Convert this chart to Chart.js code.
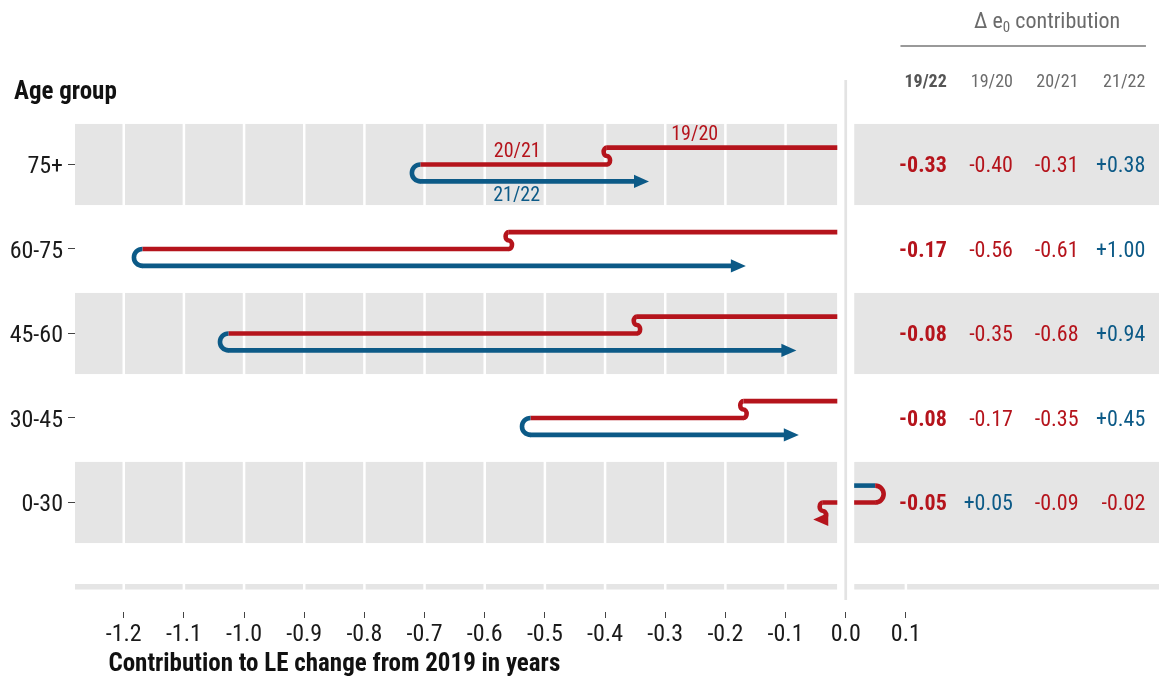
<!DOCTYPE html>
<html><head><meta charset="utf-8">
<script src="https://cdn.jsdelivr.net/npm/chart.js@4.4.1/dist/chart.umd.min.js"></script>
<style>html,body{margin:0;padding:0;background:#fff}#wrap{width:1159px;height:677px}</style>
</head><body><div id="wrap"><canvas id="c" width="1159" height="677"></canvas></div>
<script>
// ---- data ----
const ageGroups = ['75+', '60-75', '45-60', '30-45', '0-30'];
const periods = ['19/20', '20/21', '21/22'];
const c1920 = [-0.397, -0.560, -0.347, -0.170, 0.049];
const c2021 = [-0.310, -0.609, -0.679, -0.354, -0.087];
const c2122 = [0.380, 1.003, 0.944, 0.446, -0.016];
const xTicks = [-1.2, -1.1, -1.0, -0.9, -0.8, -0.7, -0.6, -0.5, -0.4, -0.3, -0.2, -0.1, 0, 0.1];
const tableHeaders = ['19/22', '19/20', '20/21', '21/22'];

// ---- style ----
const FF = '"Roboto Condensed","Liberation Sans Narrow","DejaVu Sans Condensed",Roboto,sans-serif';
const RED = '#b5141c', BLUE = '#0c5a87', BAND = '#e5e5e5', GREY = '#6b6b6b';
const GAP = 0.014, LEVEL = 0.2, BAND_H = 0.48, RX = 3.2, ARROW_L = 15, ARROW_W = 6.6, LW = 4.6;
const colX = [0.168, 0.278, 0.387, 0.498];
const periodLabels = [
  { i: 0, x: -0.251, y: 4.366 },
  { i: 1, x: -0.546, y: 4.168 },
  { i: 2, x: -0.547, y: 3.645 }
];
const rowVal = i => ageGroups.length - 1 - i;
const colorFor = v => (v < 0 ? RED : BLUE);
const fmt = v => (v >= 0 ? '+' : '') + v.toFixed(2);

const plugin = {
  id: 'lexis',
  beforeDatasetsDraw(chart) {
    const { ctx, chartArea: ca, scales: { x, y } } = chart;
    const gapL = x.getPixelForValue(-GAP), gapR = x.getPixelForValue(GAP);
    ctx.save();
    // bands
    ctx.fillStyle = BAND;
    ageGroups.forEach((g, i) => {
      if (i % 2) return;
      const r = rowVal(i);
      const yt = y.getPixelForValue(r + BAND_H), yb = y.getPixelForValue(r - BAND_H);
      ctx.fillRect(ca.left, yt, gapL - ca.left, yb - yt);
      ctx.fillRect(gapR, yt, ca.right - gapR, yb - yt);
    });
    // bottom strip
    const st = y.getPixelForValue(-0.965), sb = y.getPixelForValue(-1.03);
    ctx.fillRect(ca.left, st, gapL - ca.left, sb - st);
    ctx.fillRect(gapR, st, ca.right - gapR, sb - st);
    // white grid
    ctx.strokeStyle = '#fff'; ctx.lineWidth = 2.5;
    xTicks.forEach(v => {
      if (v === 0) return;
      const px = x.getPixelForValue(v);
      ctx.beginPath();
      if (v < 0) { ctx.moveTo(px, ca.top); ctx.lineTo(px, ca.bottom); }
      else { ctx.moveTo(px, st - 1); ctx.lineTo(px, sb + 1); }
      ctx.stroke();
    });
    // shapes
    ctx.beginPath(); ctx.rect(ca.left, ca.top, ca.right - ca.left, ca.bottom - ca.top); ctx.clip();
    ageGroups.forEach((g, i) => {
      const vals = [c1920[i], c2021[i], c2122[i]];
      const cum = [0];
      vals.forEach(v => cum.push(cum[cum.length - 1] + v));
      const r = rowVal(i);
      const lv = [r + LEVEL, r, r - LEVEL].map(v => y.getPixelForValue(v));
      const px = cum.map(v => x.getPixelForValue(v));
      ctx.lineWidth = LW; ctx.lineCap = 'butt'; ctx.lineJoin = 'round';
      for (let k = 0; k < 3; k++) {
        const col = colorFor(vals[k]);
        const d = Math.sign(vals[k]);
        ctx.strokeStyle = col; ctx.fillStyle = col;
        if (k > 0) {
          const dp = Math.sign(vals[k - 1]);
          const x0 = px[k], y0 = lv[k - 1], y1 = lv[k];
          ctx.beginPath();
          if (dp === d) {
            const ry = (y1 - y0) / 4, ccw = dp < 0;
            ctx.ellipse(x0, y0 + ry, RX, ry, 0, -Math.PI / 2, Math.PI / 2, ccw);
            ctx.ellipse(x0, y0 + 3 * ry, RX, ry, 0, -Math.PI / 2, Math.PI / 2, !ccw);
          } else {
            const rr = (y1 - y0) / 2;
            ctx.arc(x0, y0 + rr, rr, -Math.PI / 2, Math.PI / 2, dp < 0);
          }
          ctx.stroke();
        }
        let xs = px[k], xe = px[k + 1];
        if (k === 2) xe = px[3] - d * ARROW_L * 0.6;
        ctx.beginPath(); ctx.moveTo(xs - d * 0.5, lv[k]); ctx.lineTo(xe, lv[k]); ctx.stroke();
        if (k === 2) {
          ctx.beginPath();
          ctx.moveTo(px[3], lv[k]);
          ctx.lineTo(px[3] - d * ARROW_L, lv[k] - ARROW_W);
          ctx.lineTo(px[3] - d * ARROW_L, lv[k] + ARROW_W);
          ctx.closePath(); ctx.fill();
        }
      }
    });
    // period labels
    ctx.font = '20px ' + FF; ctx.textAlign = 'center'; ctx.textBaseline = 'middle';
    periodLabels.forEach(p => {
      ctx.fillStyle = p.i === 2 ? BLUE : RED;
      ctx.fillText(periods[p.i], x.getPixelForValue(p.x), y.getPixelForValue(p.y) + 1.5);
    });
    ctx.restore();
    // zero gap and zero line
    ctx.save();
    ctx.fillStyle = '#fff';
    ctx.fillRect(gapL, ca.top, gapR - gapL, ca.bottom - ca.top);
    ctx.strokeStyle = '#e3e3e3'; ctx.lineWidth = 2.7;
    const zx = x.getPixelForValue(0);
    ctx.beginPath(); ctx.moveTo(zx, ca.top); ctx.lineTo(zx, y.getPixelForValue(-1.155)); ctx.stroke();
    ctx.restore();
  },
  afterDraw(chart) {
    const { ctx, chartArea: ca, scales: { x, y } } = chart;
    ctx.save();
    ctx.textBaseline = 'middle';
    // headers
    ctx.textAlign = 'right';
    tableHeaders.forEach((h, j) => {
      ctx.font = (j === 0 ? 'bold ' : '') + '18px ' + FF;
      ctx.fillStyle = j === 0 ? '#555' : GREY;
      ctx.fillText(h, x.getPixelForValue(colX[j]), ca.top + 2.5);
    });
    // values
    ageGroups.forEach((g, i) => {
      const vals = [c1920[i], c2021[i], c2122[i]];
      const tot = vals[0] + vals[1] + vals[2];
      const yy = y.getPixelForValue(rowVal(i)) + 2.5;
      [tot].concat(vals).forEach((v, j) => {
        ctx.font = (j === 0 ? 'bold ' : '') + '22px ' + FF;
        ctx.fillStyle = colorFor(v);
        ctx.fillText(fmt(v), x.getPixelForValue(colX[j]), yy);
      });
    });
    // delta header
    const cx = x.getPixelForValue(0.3346), base = 27.5;
    ctx.textBaseline = 'alphabetic'; ctx.textAlign = 'left'; ctx.fillStyle = GREY;
    const f1 = '22px ' + FF, f2 = '15px ' + FF;
    ctx.font = f1; const w1 = ctx.measureText('Δ e').width, w3 = ctx.measureText(' contribution').width;
    ctx.font = f2; const w2 = ctx.measureText('0').width;
    let sx = cx - (w1 + w2 + w3) / 2;
    ctx.font = f1; ctx.fillText('Δ e', sx, base); sx += w1;
    ctx.font = f2; ctx.fillText('0', sx, base + 4); sx += w2;
    ctx.font = f1; ctx.fillText(' contribution', sx, base);
    ctx.strokeStyle = '#777'; ctx.lineWidth = 1.5;
    ctx.beginPath(); ctx.moveTo(x.getPixelForValue(0.091), 46); ctx.lineTo(x.getPixelForValue(0.499), 46); ctx.stroke();
    // titles
    ctx.fillStyle = '#111'; ctx.font = 'bold 25px ' + FF;
    ctx.textAlign = 'left'; ctx.fillText('Age group', 14, 98.5);
    ctx.textAlign = 'center'; ctx.fillText('Contribution to LE change from 2019 in years', x.getPixelForValue(-0.85), 671);
    ctx.restore();
  }
};

new Chart(document.getElementById('c'), {
  type: 'scatter',
  data: { datasets: [] },
  options: {
    responsive: false, animation: false, devicePixelRatio: 1,
    layout: { padding: { top: 80, left: 0, right: 0, bottom: 0 } },
    plugins: { legend: { display: false }, tooltip: { enabled: false } },
    scales: {
      x: {
        type: 'linear', min: -1.281, max: 0.5207,
        afterBuildTicks: s => { s.ticks = xTicks.map(v => ({ value: v })); },
        afterFit: s => { s.height = 65; },
        ticks: { autoSkip: false, maxRotation: 0, padding: 3, color: '#1a1a1a', font: { family: FF, size: 24 },
          callback: v => Number(v).toFixed(1) },
        grid: { drawOnChartArea: false, drawTicks: true, tickLength: 6, tickColor: '#444', tickWidth: 1 },
        border: { display: false }
      },
      y: {
        type: 'linear', min: -1.296, max: 5.0,
        afterBuildTicks: s => { s.ticks = ageGroups.map((g, i) => ({ value: rowVal(i) })).reverse(); },
        afterFit: s => { s.width = 75; },
        ticks: { padding: 5, labelOffset: 3, color: '#1a1a1a', font: { family: FF, size: 24 },
          callback: v => ageGroups[ageGroups.length - 1 - v] },
        grid: { drawOnChartArea: false, drawTicks: true, tickLength: 7, tickColor: '#444', tickWidth: 1 },
        border: { display: false }
      }
    }
  },
  plugins: [plugin]
});
</script></body></html>
